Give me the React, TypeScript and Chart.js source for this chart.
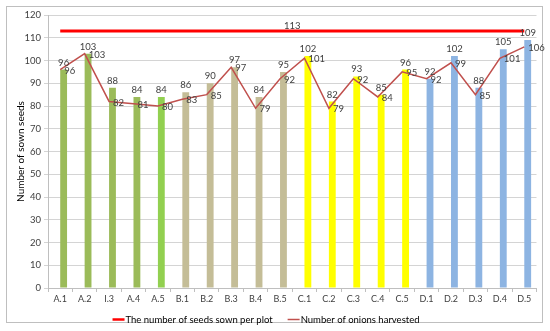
import React, { useEffect, useRef } from "react";
import { Chart, registerables } from "chart.js";

Chart.register(...registerables);

const categories = ["A.1", "A.2", "I.3", "A.4", "A.5", "B.1", "B.2", "B.3", "B.4", "B.5", "C.1", "C.2", "C.3", "C.4", "C.5", "D.1", "D.2", "D.3", "D.4", "D.5"];
const barValues = [96, 103, 88, 84, 84, 86, 90, 97, 84, 95, 102, 82, 93, 85, 96, 92, 102, 88, 105, 109];
const barColors = ["#9BBB59", "#9BBB59", "#9BBB59", "#9BBB59", "#92D050", "#C4BD97", "#C4BD97", "#C4BD97", "#C4BD97", "#C4BD97", "#FFFF00", "#FFFF00", "#FFFF00", "#FFFF00", "#FFFF00", "#8DB4E2", "#8DB4E2", "#8DB4E2", "#8DB4E2", "#8DB4E2"];
const seedsSown = [113, 113, 113, 113, 113, 113, 113, 113, 113, 113, 113, 113, 113, 113, 113, 113, 113, 113, 113, 113];
const harvested = [96, 103, 82, 81, 80, 83, 85, 97, 79, 92, 101, 79, 92, 84, 95, 92, 99, 85, 101, 106];
const seriesNames = ["The number of seeds sown per plot", "Number of onions harvested"];
const yAxisTitle = "Number of sown seeds";

const FONT = "Lato, 'Liberation Sans', sans-serif";
const TEXT = "#404040";

const decorPlugin = {
  id: "decor",
  beforeDraw(chart: any) {
    const ctx = chart.ctx;
    ctx.save();
    ctx.fillStyle = "#ffffff";
    ctx.fillRect(0, 0, chart.width, chart.height);
    ctx.strokeStyle = "#BFBFBF";
    ctx.lineWidth = 1;
    ctx.strokeRect(6.5, 6.5, 536, 316);
    ctx.restore();
  },
  afterDatasetsDraw(chart: any) {
    const ctx = chart.ctx;
    ctx.save();
    ctx.font = `9.5px ${FONT}`;
    ctx.fillStyle = TEXT;
    // bar labels
    const barMeta = chart.getDatasetMeta(1);
    ctx.textAlign = "center";
    ctx.textBaseline = "middle";
    barMeta.data.forEach((el: any, i: number) => {
      ctx.fillText(String(barValues[i]), el.x, el.y - 7);
    });
    // harvested labels
    const hMeta = chart.getDatasetMeta(3);
    ctx.textAlign = "left";
    hMeta.data.forEach((el: any, i: number) => {
      ctx.fillText(String(harvested[i]), el.x + 4, el.y + 1);
    });
    // seeds sown label (single, at the middle)
    const sMeta = chart.getDatasetMeta(2);
    const first = sMeta.data[0];
    const last = sMeta.data[sMeta.data.length - 1];
    ctx.textAlign = "center";
    ctx.fillText(String(seedsSown[Math.floor(seedsSown.length / 2)]), (first.x + last.x) / 2, first.y - 5);

    // legend
    const items = [
      { text: seriesNames[0], color: "#FF0000", w: 2.5 },
      { text: seriesNames[1], color: "#C0504D", w: 1.5 },
    ];
    ctx.font = `9.5px ${FONT}`;
    const sample = 12;
    const gap = 1;
    const spacing = 15;
    const widths = items.map((it) => sample + gap + ctx.measureText(it.text).width);
    const total = widths.reduce((a, b) => a + b, 0) + spacing;
    let x = 266 - total / 2;
    const y = 319.5;
    ctx.textAlign = "left";
    items.forEach((it, i) => {
      ctx.strokeStyle = it.color;
      ctx.lineWidth = it.w;
      ctx.beginPath();
      ctx.moveTo(x, y);
      ctx.lineTo(x + sample, y);
      ctx.stroke();
      ctx.fillStyle = "#000000";
      ctx.fillText(it.text, x + sample + gap, y);
      x += widths[i] + spacing;
    });
    ctx.restore();
  },
};

export default function App() {
  const ref = useRef<HTMLCanvasElement | null>(null);
  useEffect(() => {
    if (!ref.current) return;
    const chart = new Chart(ref.current, {
      type: "bar",
      data: {
        labels: categories,
        datasets: [
          {
            type: "bar",
            label: "_spacer",
            data: categories.map(() => null),
            backgroundColor: "rgba(0,0,0,0)",
            order: 2,
          },
          {
            type: "bar",
            label: "Sown",
            data: barValues,
            backgroundColor: barColors,
            borderWidth: 0,
            order: 2,
          },
          {
            type: "line",
            label: seriesNames[0],
            data: seedsSown,
            borderColor: "#FF0000",
            borderWidth: 3,
            pointRadius: 0,
            fill: false,
            order: 0,
          },
          {
            type: "line",
            label: seriesNames[1],
            data: harvested,
            borderColor: "#C0504D",
            borderWidth: 1.5,
            pointRadius: 0,
            tension: 0,
            fill: false,
            order: 1,
          },
        ] as any,
      },
      options: {
        animation: false,
        responsive: false,
        maintainAspectRatio: false,
        layout: { padding: { left: 0, right: 13.5, top: 15, bottom: 23 } },
        datasets: {
          bar: { categoryPercentage: 0.56, barPercentage: 1 },
        } as any,
        plugins: {
          legend: { display: false },
          tooltip: { enabled: false },
        },
        scales: {
          x: {
            grid: { offset: true, drawOnChartArea: false, tickLength: 4, color: "#BFBFBF" },
            border: { color: "#BFBFBF" },
            ticks: { font: { size: 9, family: FONT }, color: TEXT, padding: 2, maxRotation: 0, autoSkip: false },
            afterFit: (s: any) => { s.height = 20; },
          },
          y: {
            min: 0,
            max: 120,
            ticks: { stepSize: 10, font: { size: 9.5, family: FONT }, color: TEXT, padding: 3 },
            grid: { color: "#D4D4D4", lineWidth: 1, tickLength: 4 },
            border: { color: "#BFBFBF" },
            title: { display: true, text: yAxisTitle, font: { size: 10, family: FONT }, color: "#000000", padding: { top: 15, bottom: 0 } },
            afterFit: (s: any) => { s.width = 48; },
          },
        },
      },
      plugins: [decorPlugin],
    });
    return () => chart.destroy();
  }, []);
  return (
    <div style={{ position: "fixed", left: 0, top: 0, width: 550, height: 331, background: "#fff" }}>
      <canvas ref={ref} width={550} height={331} style={{ width: 550, height: 331, display: "block" }} />
    </div>
  );
}
